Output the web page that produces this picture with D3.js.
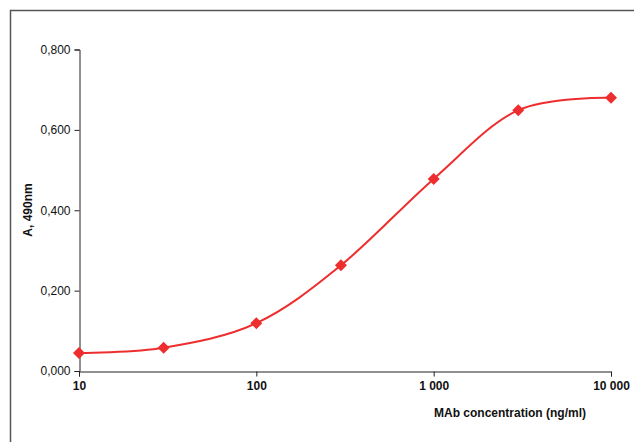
<!DOCTYPE html>
<html>
<head>
<meta charset="utf-8">
<script src="https://cdn.jsdelivr.net/npm/d3@7"></script>
<style>
  html, body { margin: 0; padding: 0; background: #fff; }
  svg { display: block; font-family: "Liberation Sans", Arial, sans-serif; }
</style>
</head>
<body>
<svg id="chart" width="634" height="442"></svg>
<script>
// MAb titration: absorbance at 490 nm versus antibody concentration
const concentrations = [10, 30, 100, 300, 1000, 3000, 10000];
const absorbance = [0.045, 0.058, 0.119, 0.263, 0.478, 0.649, 0.680];
const xTicks = [10, 100, 1000, 10000];
const xTickLabels = ["10", "100", "1 000", "10 000"];
const yTicks = [0, 0.2, 0.4, 0.6, 0.8];
const yTickLabels = ["0,000", "0,200", "0,400", "0,600", "0,800"];

const svg = d3.select("#chart");
const lineColor = "#ee2e2e";

// outer frame (top and left edges)
svg.append("path")
  .attr("d", "M10.5,442 V10.5 H634")
  .attr("fill", "none")
  .attr("stroke", "#555")
  .attr("stroke-width", 1.5);

const x = d3.scaleLog().domain([10, 10000]).range([79, 611]);
const y = d3.scaleLinear().domain([0, 0.8]).range([371, 49.5]);

// y axis
const yAxis = svg.append("g")
  .attr("transform", "translate(79.5,0)")
  .call(d3.axisLeft(y).tickValues(yTicks)
    .tickFormat((d, i) => yTickLabels[i]).tickSize(5).tickPadding(4));
yAxis.selectAll("text").attr("font-size", 12).attr("fill", "#111")
  .attr("font-family", "'Liberation Sans', Arial, sans-serif");
yAxis.selectAll("line, path").attr("stroke", "#222");

// x axis
const xAxis = svg.append("g")
  .attr("transform", "translate(0,371.5)")
  .call(d3.axisBottom(x).tickValues(xTicks)
    .tickFormat((d, i) => xTickLabels[i]).tickSize(5).tickPadding(5));
xAxis.selectAll("text").attr("font-size", 12).attr("font-weight", "bold")
  .attr("fill", "#111").attr("font-family", "'Liberation Sans', Arial, sans-serif");
xAxis.selectAll("line, path").attr("stroke", "#222");

// axis titles
svg.append("text")
  .attr("transform", "translate(32,210) rotate(-90)")
  .attr("text-anchor", "middle")
  .attr("font-size", 12).attr("font-weight", "bold").attr("fill", "#111")
  .text("A, 490nm");

svg.append("text")
  .attr("x", 510).attr("y", 417)
  .attr("text-anchor", "middle")
  .attr("font-size", 12).attr("font-weight", "bold").attr("fill", "#111")
  .text("MAb concentration (ng/ml)");

// smoothed response curve
const data = concentrations.map((c, i) => ({ c, a: absorbance[i] }));
const line = d3.line()
  .x(d => x(d.c)).y(d => y(d.a))
  .curve(d3.curveCatmullRom.alpha(0));

svg.append("path")
  .datum(data)
  .attr("d", line)
  .attr("fill", "none")
  .attr("stroke", lineColor)
  .attr("stroke-width", 2);

// diamond markers
svg.selectAll(".marker")
  .data(data)
  .join("path")
  .attr("class", "marker")
  .attr("transform", d => `translate(${x(d.c)},${y(d.a)})`)
  .attr("d", "M0,-6 L6,0 L0,6 L-6,0 Z")
  .attr("fill", lineColor);
</script>
</body>
</html>
